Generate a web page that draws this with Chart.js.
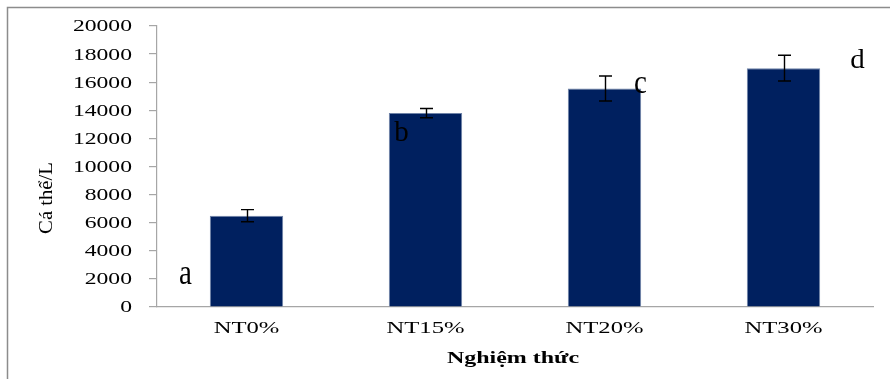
<!DOCTYPE html>
<html>
<head>
<meta charset="utf-8">
<script src="https://cdn.jsdelivr.net/npm/chart.js@4.4.1/dist/chart.umd.min.js"></script>
<style>
  html, body { margin: 0; padding: 0; background: #ffffff; }
  #wrap { width: 890px; height: 379px; }
</style>
</head>
<body>
<div id="wrap"><canvas id="c" width="890" height="379"></canvas></div>
<script>
// Mật độ cá thể theo nghiệm thức
const categories = ['NT0%', 'NT15%', 'NT20%', 'NT30%'];
const values = [6500, 13800, 15550, 17000];
const errors = [430, 330, 890, 915];
const groupLetters = ['a', 'b', 'c', 'd'];
const yTitle = 'Cá thể/L';
const xTitle = 'Nghiệm thức';

const SERIF = '"Liberation Serif", "Times New Roman", serif';
const AXIS_GRAY = '#a6a6a6';

function wideText(ctx, text, x, y, font, sx, sy, align, baseline) {
  ctx.save();
  ctx.translate(x, y);
  ctx.scale(sx, sy);
  ctx.font = font;
  ctx.fillStyle = '#000000';
  ctx.textAlign = align;
  ctx.textBaseline = baseline;
  ctx.fillText(text, 0, 0);
  ctx.restore();
}

const decorations = {
  id: 'decorations',
  beforeDraw(chart) {
    const ctx = chart.ctx;
    ctx.save();
    ctx.fillStyle = '#ffffff';
    ctx.fillRect(0, 0, chart.width, chart.height);
    // outer frame (top and left edges)
    ctx.strokeStyle = '#8c8c8c';
    ctx.lineWidth = 1.5;
    ctx.beginPath();
    ctx.moveTo(7.5, chart.height);
    ctx.lineTo(7.5, 7.5);
    ctx.lineTo(chart.width, 7.5);
    ctx.stroke();
    ctx.restore();
  },
  afterDatasetsDraw(chart) {
    const ctx = chart.ctx;
    const xs = chart.scales.x;
    const ys = chart.scales.y;
    const meta = chart.getDatasetMeta(0);

    // error bars
    ctx.save();
    ctx.strokeStyle = '#000000';
    ctx.lineWidth = 1.4;
    meta.data.forEach((bar, i) => {
      const x = Math.round(bar.x) + 0.5;
      const yTop = ys.getPixelForValue(values[i] + errors[i]);
      const yBot = ys.getPixelForValue(values[i] - errors[i]);
      ctx.beginPath();
      ctx.moveTo(x, yTop); ctx.lineTo(x, yBot);
      ctx.moveTo(x - 6.5, yTop); ctx.lineTo(x + 6.5, yTop);
      ctx.moveTo(x - 6.5, yBot); ctx.lineTo(x + 6.5, yBot);
      ctx.stroke();
    });
    ctx.restore();

    // significance letters
    const letterPos = [
      { dx: -61, v: 1650, sy: 1.25 },
      { dx: -24, v: 11800, sy: 1.05 },
      { dx: 36, v: 15200, sy: 1.15 },
      { dx: 74, v: 17000, sy: 0.95 }
    ];
    meta.data.forEach((bar, i) => {
      const p = letterPos[i];
      wideText(ctx, groupLetters[i], bar.x + p.dx, ys.getPixelForValue(p.v),
        '29px ' + SERIF, 1, p.sy, 'center', 'alphabetic');
    });

    // y tick labels
    ys.ticks.forEach(t => {
      wideText(ctx, String(t.value), 132, ys.getPixelForValue(t.value) + 1,
        '17px ' + SERIF, 1.39, 1, 'right', 'middle');
    });

    // x category labels
    categories.forEach((c, i) => {
      wideText(ctx, c, xs.getPixelForValue(i), 329,
        '17px ' + SERIF, 1.45, 1, 'center', 'middle');
    });

    // axis titles
    wideText(ctx, xTitle, 513, 363, 'bold 17px ' + SERIF, 1.41, 1, 'center', 'alphabetic');
    ctx.save();
    ctx.translate(52, 198);
    ctx.rotate(-Math.PI / 2);
    wideText(ctx, yTitle, 0, 0, '18px ' + SERIF, 1.15, 1.05, 'center', 'alphabetic');
    ctx.restore();
  }
};

new Chart(document.getElementById('c'), {
  type: 'bar',
  data: {
    labels: categories,
    datasets: [{
      data: values,
      backgroundColor: '#00205f',
      borderColor: '#6f83a8',
      borderWidth: 1,
      barPercentage: 0.41,
      categoryPercentage: 1.0
    }]
  },
  options: {
    responsive: false,
    animation: false,
    devicePixelRatio: 1,
    layout: { padding: { left: 0, right: 17, top: 26, bottom: 0 } },
    plugins: { legend: { display: false }, tooltip: { enabled: false } },
    scales: {
      x: {
        ticks: { display: false },
        grid: { display: false, drawTicks: false },
        border: { display: true, color: AXIS_GRAY, width: 1.2 },
        afterFit(scale) { scale.height = 72; }
      },
      y: {
        min: 0,
        max: 20000,
        ticks: { display: false, stepSize: 2000 },
        grid: { drawOnChartArea: false, drawTicks: true, tickLength: 8, color: AXIS_GRAY, lineWidth: 1.2 },
        border: { display: true, color: AXIS_GRAY, width: 1.2 },
        afterFit(scale) { scale.width = 157; }
      }
    }
  },
  plugins: [decorations]
});
</script>
</body>
</html>
